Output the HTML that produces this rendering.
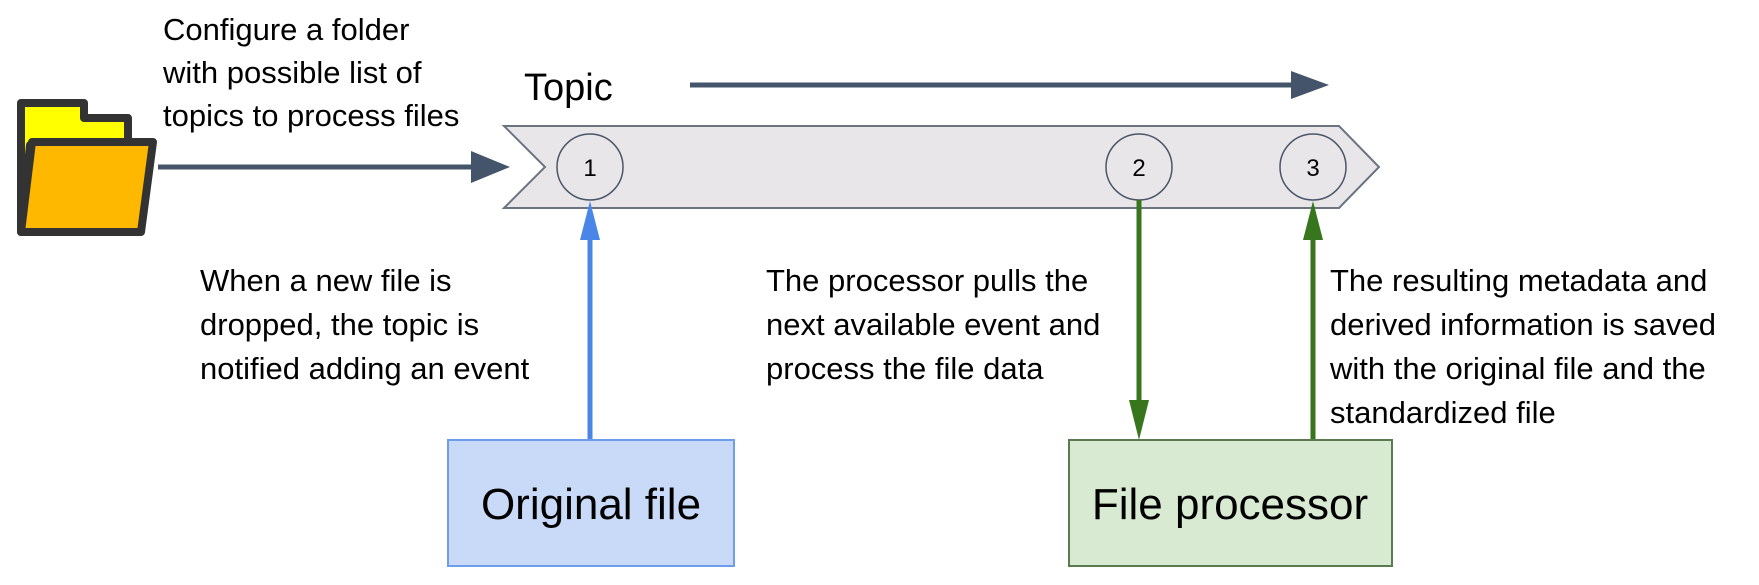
<!DOCTYPE html>
<html><head><meta charset="utf-8"><style>
body{margin:0;background:#fff;}
svg text{font-family:"Liberation Sans",sans-serif;}
</style></head><body>
<svg width="1759" height="580" viewBox="0 0 1759 580" xmlns="http://www.w3.org/2000/svg">
<rect width="1759" height="580" fill="#fff"/>
<path d="M21 103 H84 V118 H128 V145 H30 L21 232 Z" fill="#ffff00" stroke="#333" stroke-width="8" stroke-linejoin="round"/>
<path d="M32 142 H153 L141 232 H21 Z" fill="#ffb800" stroke="#333" stroke-width="8" stroke-linejoin="round"/>
<line x1="158" y1="167" x2="474" y2="167" stroke="#44546a" stroke-width="5"/>
<polygon points="471,151 510,167 471,183" fill="#44546a"/>
<line x1="690" y1="85" x2="1293" y2="85" stroke="#44546a" stroke-width="5"/>
<polygon points="1291,71 1329,85 1291,99" fill="#44546a"/>
<polygon points="504,126 1339,126 1379,167 1339,208 504,208 545,167" fill="#e8e6e8" stroke="#6b7280" stroke-width="2"/>
<circle cx="590" cy="167" r="33" fill="#e8e6e8" stroke="#4a5568" stroke-width="1.5"/>
<circle cx="1139" cy="167" r="33" fill="#e8e6e8" stroke="#4a5568" stroke-width="1.5"/>
<circle cx="1313" cy="167" r="33" fill="#e8e6e8" stroke="#4a5568" stroke-width="1.5"/>
<text x="590" y="176" font-size="24" text-anchor="middle">1</text>
<text x="1139" y="176" font-size="24" text-anchor="middle">2</text>
<text x="1313" y="176" font-size="24" text-anchor="middle">3</text>
<line x1="590" y1="240" x2="590" y2="440" stroke="#4a86e8" stroke-width="5"/>
<polygon points="580,240 590,201 600,240" fill="#4a86e8"/>
<line x1="1139" y1="200" x2="1139" y2="402" stroke="#38761d" stroke-width="5"/>
<polygon points="1129,400 1139,440 1149,400" fill="#38761d"/>
<line x1="1313" y1="240" x2="1313" y2="440" stroke="#38761d" stroke-width="5"/>
<polygon points="1303,240 1313,201 1323,240" fill="#38761d"/>
<rect x="448" y="440" width="286" height="126" fill="#c9daf8" stroke="#6d9eeb" stroke-width="2"/>
<text x="591" y="519" font-size="44" text-anchor="middle">Original file</text>
<rect x="1069" y="440" width="323" height="126" fill="#d9ead3" stroke="#5b7a4f" stroke-width="2"/>
<text x="1230" y="519" font-size="44" text-anchor="middle">File processor</text>
<g font-size="31" fill="#000">
<text x="163" y="40">Configure a folder</text>
<text x="163" y="83">with possible list of</text>
<text x="163" y="126">topics to process files</text>
<text x="200" y="291">When a new file is</text>
<text x="200" y="335">dropped, the topic is</text>
<text x="200" y="379">notified adding an event</text>
<text x="766" y="291">The processor pulls the</text>
<text x="766" y="335">next available event and</text>
<text x="766" y="379">process the file data</text>
<text x="1330" y="291">The resulting metadata and</text>
<text x="1330" y="335">derived information is saved</text>
<text x="1330" y="379">with the original file and the</text>
<text x="1330" y="423">standardized file</text>
</g>
<text x="524" y="100" font-size="38">Topic</text>
</svg>
</body></html>
